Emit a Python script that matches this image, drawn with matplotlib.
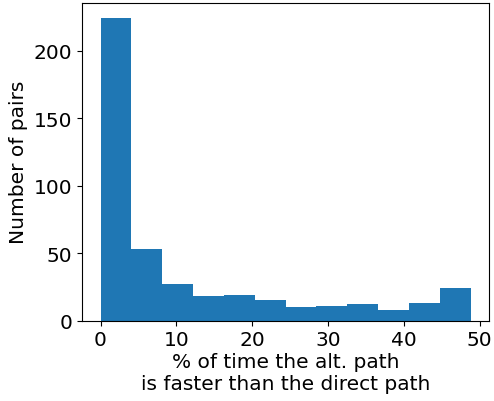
import numpy as np
import matplotlib
matplotlib.use("Agg")
import matplotlib.pyplot as plt

# histogram counts (12 bins)
bin_edges = np.linspace(0, 48.8, 13)
counts = [224, 53, 27, 18, 19, 15, 10, 11, 12, 8, 13, 24]

plt.rcParams["font.size"] = 14.5

fig = plt.figure(figsize=(4.94, 4.02), dpi=100)
ax = fig.add_axes([0.166, 0.2, 0.824, 0.79])

ax.hist(bin_edges[:-1], bins=bin_edges, weights=counts, color="#1f77b4")
ax.set_xticks([0, 10, 20, 30, 40, 50])
ax.set_yticks([0, 50, 100, 150, 200])
ax.set_xlabel("% of time the alt. path\nis faster than the direct path", labelpad=2)
ax.set_ylabel("Number of pairs")

fig.savefig("out.png", dpi=100)
plt.close()
